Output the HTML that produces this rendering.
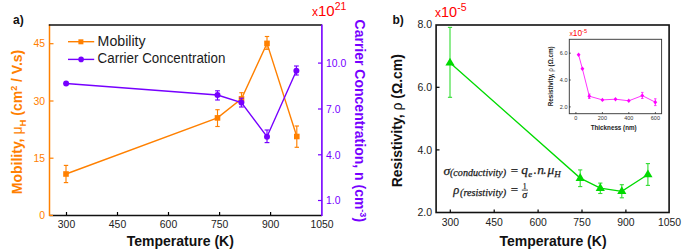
<!DOCTYPE html>
<html><head><meta charset="utf-8">
<style>
html,body{margin:0;padding:0;background:#fff;width:683px;height:251px;overflow:hidden}
svg{display:block;font-family:"Liberation Sans",sans-serif}
</style></head>
<body>
<svg width="683" height="251" viewBox="0 0 683 251">
<rect width="683" height="251" fill="#fff"/>

<!-- ============ PLOT A ============ -->
<text x="13" y="23.5" font-size="12" font-weight="bold" fill="#111">a)</text>

<!-- frame -->
<line x1="49.5" y1="215.4" x2="321.9" y2="215.4" stroke="#111" stroke-width="1.5"/>
<line x1="49.5" y1="24.5" x2="49.5" y2="216" stroke="#ff8000" stroke-width="1.5"/>
<line x1="48.8" y1="25.1" x2="322" y2="25.1" stroke="#111" stroke-width="1.5"/>
<line x1="321.9" y1="24.4" x2="321.9" y2="216" stroke="#7600ff" stroke-width="1.6"/>

<!-- bottom ticks a -->
<g stroke="#000" stroke-width="1.2">
<line x1="66.5" y1="215" x2="66.5" y2="212"/>
<line x1="117.5" y1="215" x2="117.5" y2="212"/>
<line x1="168.5" y1="215" x2="168.5" y2="212"/>
<line x1="219.6" y1="215" x2="219.6" y2="212"/>
<line x1="270.6" y1="215" x2="270.6" y2="212"/>
</g>
<g font-size="10.4" fill="#222" text-anchor="middle">
<text x="66.5" y="228">300</text>
<text x="117.5" y="228">450</text>
<text x="168.5" y="228">600</text>
<text x="219.6" y="228">750</text>
<text x="270.6" y="228">900</text>
<text x="322" y="228">1050</text>
</g>
<text x="180.3" y="246" font-size="14" font-weight="bold" fill="#111" text-anchor="middle">Temperature (K)</text>

<!-- left ticks a -->
<g stroke="#ff8000" stroke-width="1.2">
<line x1="49.5" y1="215.4" x2="53" y2="215.4"/>
<line x1="49.5" y1="158.2" x2="53.5" y2="158.2"/>
<line x1="49.5" y1="101" x2="53.5" y2="101"/>
<line x1="49.5" y1="43.7" x2="53.5" y2="43.7"/>
</g>
<g font-size="10.4" fill="#ff8000" text-anchor="end">
<text x="45" y="218.9">0</text>
<text x="45" y="161.7">15</text>
<text x="45" y="104.5">30</text>
<text x="45" y="47.2">45</text>
</g>
<text transform="translate(22,122) rotate(-90)" font-size="14" font-weight="bold" fill="#ff8000" text-anchor="middle">Mobility, <tspan font-weight="normal">μ</tspan><tspan font-size="9.5" dy="4">H</tspan><tspan dy="-4"> (cm</tspan><tspan font-size="9" dy="-5">2</tspan><tspan dy="5"> / V.s)</tspan></text>

<!-- right ticks a -->
<g stroke="#7600ff" stroke-width="1.2">
<line x1="318" y1="200.5" x2="321.9" y2="200.5"/>
<line x1="318" y1="154.8" x2="321.9" y2="154.8"/>
<line x1="318" y1="109" x2="321.9" y2="109"/>
<line x1="318" y1="63.1" x2="321.9" y2="63.1"/>
</g>
<g font-size="10.4" fill="#7600ff">
<text x="326" y="204.4">1.0</text>
<text x="326" y="158.7">4.0</text>
<text x="326" y="112.9">7.0</text>
<text x="326" y="67.1">10.0</text>
</g>
<text x="312" y="15.5" font-size="15" fill="#ff0000"><tspan font-size="12">x</tspan>10<tspan font-size="10.5" dy="-6">21</tspan></text>
<text transform="translate(354.9,120.8) rotate(90)" font-size="14" font-weight="bold" fill="#7600ff" text-anchor="middle">Carrier Concentration, n (cm<tspan font-size="9" dy="-5">-3</tspan><tspan dy="5">)</tspan></text>

<!-- legend -->
<line x1="68" y1="41.7" x2="94.2" y2="41.7" stroke="#ff8000" stroke-width="1.4"/>
<rect x="78.4" y="39.3" width="5" height="5" fill="#ff8000"/>
<text x="97.6" y="45.7" font-size="13.8" fill="#1a1a1a" textLength="48" lengthAdjust="spacingAndGlyphs">Mobility</text>
<line x1="68" y1="59.4" x2="94.2" y2="59.4" stroke="#7600ff" stroke-width="1.4"/>
<circle cx="81.1" cy="59.4" r="2.8" fill="#7600ff"/>
<text x="97.6" y="63.4" font-size="13.8" fill="#1a1a1a" textLength="127.8" lengthAdjust="spacingAndGlyphs">Carrier Concentration</text>

<!-- mobility data -->
<polyline points="66,174 217.5,117.9 241.5,98.9 267,43.4 296.8,136.5" stroke="#ff8000" stroke-width="1.4" fill="none"/>
<g stroke="#ff8000" stroke-width="1.15" fill="none">
<line x1="66" y1="165.4" x2="66" y2="182.6"/><line x1="63.8" y1="165.4" x2="68.2" y2="165.4"/><line x1="63.8" y1="182.6" x2="68.2" y2="182.6"/>
<line x1="217.5" y1="109.7" x2="217.5" y2="126.5"/><line x1="215.3" y1="109.7" x2="219.7" y2="109.7"/><line x1="215.3" y1="126.5" x2="219.7" y2="126.5"/>
<line x1="241.5" y1="92.7" x2="241.5" y2="103"/><line x1="239.3" y1="92.7" x2="243.7" y2="92.7"/><line x1="239.3" y1="103" x2="243.7" y2="103"/>
<line x1="267" y1="36.5" x2="267" y2="49.3"/><line x1="264.8" y1="36.5" x2="269.2" y2="36.5"/><line x1="264.8" y1="49.3" x2="269.2" y2="49.3"/>
<line x1="296.8" y1="126" x2="296.8" y2="147.3"/><line x1="294.6" y1="126" x2="299.0" y2="126"/><line x1="294.6" y1="147.3" x2="299.0" y2="147.3"/>
</g>
<g fill="#ff8000">
<rect x="63.20" y="171.20" width="5.6" height="5.6"/>
<rect x="214.70" y="115.10" width="5.6" height="5.6"/>
<rect x="238.70" y="96.10" width="5.6" height="5.6"/>
<rect x="264.20" y="40.60" width="5.6" height="5.6"/>
<rect x="294.00" y="133.70" width="5.6" height="5.6"/>
</g>

<!-- carrier data -->
<polyline points="66.1,83.5 217.5,95 241.4,102.6 267,136.7 296.4,70.8" stroke="#7600ff" stroke-width="1.4" fill="none"/>
<g stroke="#7600ff" stroke-width="1.15" fill="none">
<line x1="217.5" y1="90.8" x2="217.5" y2="100"/><line x1="215.1" y1="90.8" x2="219.9" y2="90.8"/><line x1="215.1" y1="100" x2="219.9" y2="100"/>
<line x1="241.4" y1="98.2" x2="241.4" y2="107"/><line x1="239.0" y1="98.2" x2="243.8" y2="98.2"/><line x1="239.0" y1="107" x2="243.8" y2="107"/>
<line x1="267" y1="130" x2="267" y2="142.6"/><line x1="264.6" y1="130" x2="269.4" y2="130"/><line x1="264.6" y1="142.6" x2="269.4" y2="142.6"/>
<line x1="296.4" y1="66" x2="296.4" y2="75"/><line x1="294.0" y1="66" x2="298.79999999999995" y2="66"/><line x1="294.0" y1="75" x2="298.79999999999995" y2="75"/>
</g>
<g fill="#7600ff">
<circle cx="66.1" cy="83.5" r="3.0"/>
<circle cx="217.5" cy="95" r="3.0"/>
<circle cx="241.4" cy="102.6" r="3.0"/>
<circle cx="267" cy="136.7" r="3.0"/>
<circle cx="296.4" cy="70.8" r="3.0"/>
</g>

<!-- ============ PLOT B ============ -->
<text x="392.5" y="23.5" font-size="12" font-weight="bold" fill="#111">b)</text>
<rect x="436.1" y="25" width="233" height="187.5" fill="none" stroke="#111" stroke-width="1.6"/>

<g stroke="#000" stroke-width="1.2">
<line x1="450.3" y1="212.5" x2="450.3" y2="209.5"/>
<line x1="494.2" y1="212.5" x2="494.2" y2="209.5"/>
<line x1="538.1" y1="212.5" x2="538.1" y2="209.5"/>
<line x1="582" y1="212.5" x2="582" y2="209.5"/>
<line x1="625.9" y1="212.5" x2="625.9" y2="209.5"/>
<line x1="436" y1="149.9" x2="439.5" y2="149.9"/>
<line x1="436" y1="87.3" x2="439.5" y2="87.3"/>
</g>
<g font-size="10.4" fill="#222" text-anchor="middle">
<text x="450.3" y="226">300</text>
<text x="494.2" y="226">450</text>
<text x="538.1" y="226">600</text>
<text x="582" y="226">750</text>
<text x="625.9" y="226">900</text>
<text x="669.5" y="226">1050</text>
</g>
<g font-size="10.5" fill="#222" text-anchor="end">
<text x="432" y="216">2.0</text>
<text x="432" y="153.5">4.0</text>
<text x="432" y="90.9">6.0</text>
<text x="432" y="28.2">8.0</text>
</g>
<text x="553" y="246" font-size="14" font-weight="bold" fill="#111" text-anchor="middle">Temperature (K)</text>
<text transform="translate(401.5,120.7) rotate(-90)" font-size="14" font-weight="bold" fill="#111" text-anchor="middle">Resistivity, <tspan font-weight="normal">ρ</tspan> (Ω.cm)</text>
<text x="435" y="17.2" font-size="14.5" fill="#ff0000"><tspan font-size="12">x</tspan>10<tspan font-size="10.5" dy="-6.5">-5</tspan></text>

<!-- green data -->
<polyline points="450,62.8 580.2,178.1 600.3,188.2 621.8,191.3 647.9,174.5" stroke="#00da00" stroke-width="1.3" fill="none"/>
<g stroke="#30dc30" stroke-width="1.1" fill="none">
<line x1="450" y1="27.4" x2="450" y2="97.3"/><line x1="447.9" y1="27.4" x2="452.1" y2="27.4"/><line x1="447.9" y1="97.3" x2="452.1" y2="97.3"/>
<line x1="580.2" y1="169.9" x2="580.2" y2="186.6"/><line x1="578.1" y1="169.9" x2="582.3000000000001" y2="169.9"/><line x1="578.1" y1="186.6" x2="582.3000000000001" y2="186.6"/>
<line x1="600.3" y1="183.1" x2="600.3" y2="193.5"/><line x1="598.1999999999999" y1="183.1" x2="602.4" y2="183.1"/><line x1="598.1999999999999" y1="193.5" x2="602.4" y2="193.5"/>
<line x1="621.8" y1="184.7" x2="621.8" y2="197.8"/><line x1="619.6999999999999" y1="184.7" x2="623.9" y2="184.7"/><line x1="619.6999999999999" y1="197.8" x2="623.9" y2="197.8"/>
<line x1="647.9" y1="163.6" x2="647.9" y2="185.4"/><line x1="645.8" y1="163.6" x2="650.0" y2="163.6"/><line x1="645.8" y1="185.4" x2="650.0" y2="185.4"/>
</g>
<g fill="#00da00">
<polygon points="450.0,57.7 454.6,65.6 445.4,65.6"/>
<polygon points="580.2,173.0 584.8,180.9 575.6,180.9"/>
<polygon points="600.3,183.1 604.9,191.0 595.7,191.0"/>
<polygon points="621.8,186.2 626.4,194.1 617.2,194.1"/>
<polygon points="647.9,169.4 652.5,177.3 643.3,177.3"/>
</g>

<!-- formulas -->
<g font-family="Liberation Serif" font-style="italic" fill="#1a1a1a" stroke="#1a1a1a" stroke-width="0.25">
<text x="443.6" y="174.6" font-size="13.5">σ</text>
<text x="450" y="176.2" font-size="10" textLength="56.2" lengthAdjust="spacingAndGlyphs">(conductivity)</text>
<text x="510.8" y="174.8" font-size="13" font-style="normal">=</text>
<text x="521.2" y="174.2" font-size="13.5">q</text>
<text x="528.3" y="177.2" font-size="9">e</text>
<text x="533.2" y="174" font-size="13" font-style="normal">.</text>
<text x="537.3" y="174" font-size="13.5">n</text>
<text x="542.9" y="174" font-size="13" font-style="normal">.</text>
<text x="547.6" y="174.2" font-size="13.5">μ</text>
<text x="554.3" y="177.2" font-size="9">H</text>
<text x="453.3" y="193.8" font-size="12.5">ρ</text>
<text x="460" y="196" font-size="10" textLength="46.2" lengthAdjust="spacingAndGlyphs">(resistivity)</text>
<text x="510.8" y="194.3" font-size="13" font-style="normal">=</text>
<text x="524.8" y="188.6" font-size="7.8" font-style="normal" text-anchor="middle" stroke-width="0.2">1</text>
<line x1="521.8" y1="190.1" x2="528" y2="190.1" stroke="#1a1a1a" stroke-width="0.8"/>
<text x="524.8" y="198.3" font-size="10" text-anchor="middle">σ</text>
</g>

<!-- ============ INSET ============ -->
<rect x="569.3" y="39.3" width="92.3" height="74.4" fill="none" stroke="#3a3a3a" stroke-width="0.95"/>
<g stroke="#222" stroke-width="0.7">
<line x1="575.9" y1="113.8" x2="575.9" y2="112"/>
<line x1="602.4" y1="113.8" x2="602.4" y2="112"/>
<line x1="628.8" y1="113.8" x2="628.8" y2="112"/>
<line x1="655.4" y1="113.8" x2="655.4" y2="112"/>
<line x1="569" y1="106.9" x2="570.8" y2="106.9"/>
<line x1="569" y1="80" x2="570.8" y2="80"/>
<line x1="569" y1="53.2" x2="570.8" y2="53.2"/>
</g>
<g font-size="5.5" fill="#333" text-anchor="middle">
<text x="575.9" y="120.2">0</text>
<text x="602.4" y="120.2">200</text>
<text x="628.8" y="120.2">400</text>
<text x="655.4" y="120.2">600</text>
</g>
<g font-size="5.5" fill="#333" text-anchor="end">
<text x="567.5" y="108.9">2.0</text>
<text x="567.5" y="82">4.0</text>
<text x="567.5" y="55.2">6.0</text>
</g>
<text x="613.7" y="129.8" font-size="6.8" font-weight="bold" fill="#222" text-anchor="middle" textLength="46" lengthAdjust="spacingAndGlyphs">Thickness (nm)</text>
<text transform="translate(552.6,76.3) rotate(-90)" font-size="6.3" font-weight="bold" fill="#222" text-anchor="middle">Resistivity, <tspan font-weight="normal">ρ</tspan> (Ω.cm)</text>
<text x="569.4" y="36" font-size="8.3" fill="#ff0000"><tspan font-size="6.8">x</tspan>10<tspan font-size="5.6" dy="-3.5">-5</tspan></text>

<g stroke="#ff33ff" stroke-width="1" fill="none">
<polyline points="578.6,54.8 582.4,68.8 589.3,96.2 602.4,99.9 615.5,99.2 628.8,100.8 642.3,95.6 655.3,102.2"/>
<line x1="589.3" y1="94" x2="589.3" y2="98.5"/><line x1="588.0999999999999" y1="94" x2="590.5" y2="94"/><line x1="588.0999999999999" y1="98.5" x2="590.5" y2="98.5"/>
<line x1="642.3" y1="92.4" x2="642.3" y2="98.5"/><line x1="641.0999999999999" y1="92.4" x2="643.5" y2="92.4"/><line x1="641.0999999999999" y1="98.5" x2="643.5" y2="98.5"/>
<line x1="655.3" y1="98.8" x2="655.3" y2="105.6"/><line x1="654.0999999999999" y1="98.8" x2="656.5" y2="98.8"/><line x1="654.0999999999999" y1="105.6" x2="656.5" y2="105.6"/>
</g>
<g fill="#ff00ff">
<polygon points="578.6,52.599999999999994 580.5,54.8 578.6,57.0 576.7,54.8"/>
<polygon points="582.4,66.6 584.3,68.8 582.4,71.0 580.5,68.8"/>
<polygon points="589.3,94.0 591.1999999999999,96.2 589.3,98.4 587.4,96.2"/>
<polygon points="602.4,97.7 604.3,99.9 602.4,102.10000000000001 600.5,99.9"/>
<polygon points="615.5,97.0 617.4,99.2 615.5,101.4 613.6,99.2"/>
<polygon points="628.8,98.6 630.6999999999999,100.8 628.8,103.0 626.9,100.8"/>
<polygon points="642.3,93.39999999999999 644.1999999999999,95.6 642.3,97.8 640.4,95.6"/>
<polygon points="655.3,100.0 657.1999999999999,102.2 655.3,104.4 653.4,102.2"/>
</g>
</svg>
</body></html>
